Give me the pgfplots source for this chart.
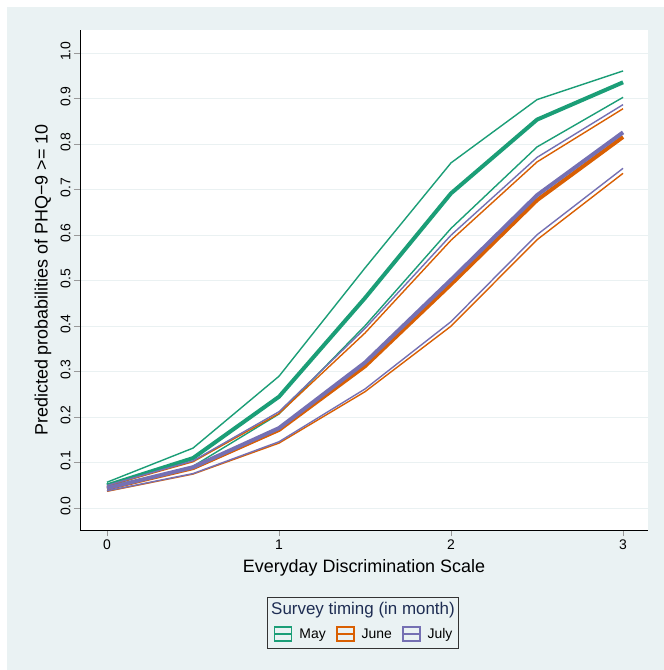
\documentclass[border=0pt]{standalone}
\usepackage{fontspec}
\setmainfont{Liberation Sans}
\usepackage{pgfplots}
\pgfplotsset{compat=1.18}
\definecolor{bgcol}{RGB}{234,242,243}
\definecolor{gridcol}{RGB}{234,241,242}
\definecolor{cMay}{RGB}{27,158,119}
\definecolor{cJune}{RGB}{217,95,2}
\definecolor{cJuly}{RGB}{117,112,179}
\definecolor{titlecol}{RGB}{30,45,83}
\begin{document}
\begin{tikzpicture}
\fill[white] (-80bp,-140bp) rectangle (584bp,530bp);
\fill[bgcol] (-73bp,-140bp) rectangle (584bp,523bp);
\path[use as bounding box] (-80bp,-140bp) rectangle (584bp,530bp);
\begin{axis}[
  at={(0,0)}, anchor=south west,
  scale only axis, width=568bp, height=500bp,
  xmin=-0.157, xmax=3.145, ymin=-0.048, ymax=1.051,
  axis background/.style={fill=white},
  axis lines*=left, axis line style={black, line width=0.8bp, -},
  xtick={0,1,2,3}, ytick={0,0.1,...,1.0},
  tick align=outside, major tick length=6bp,
  tick style={color=gray!80, line width=0.8bp},
  ymajorgrids, major grid style={color=gridcol, line width=1.2bp},
  /pgf/number format/assume math mode=true,
  yticklabel style={/pgf/number format/fixed, /pgf/number format/precision=1, /pgf/number format/fixed zerofill, rotate=90, anchor=south, xshift=2bp},
  ticklabel style={font=\fontsize{14}{16}\selectfont},
  xlabel={Everyday Discrimination Scale},
  ylabel={Predicted probabilities of PHQ−9 >= 10},
  label style={font=\fontsize{18}{20}\selectfont},
  xlabel style={at={(rel axis cs:0.5,0)}, anchor=center, yshift=-38bp},
  ylabel style={at={(rel axis cs:0,0.5)}, anchor=center, yshift=37bp},
  legend columns=3,
  legend style={at={(0.5,-0.208)}, anchor=center, draw=none, fill=none,
    font=\fontsize{14}{16}\selectfont,
    /tikz/every odd column/.append style={column sep=5bp},
    /tikz/every even column/.append style={column sep=8bp}},
  legend image code/.code={
    \draw[#1, line width=1.8bp, fill=none] (0bp,-7bp) rectangle (17bp,7bp);
    \draw[#1, line width=1.8bp] (0bp,0bp) -- (17bp,0bp);
  },
]
% May
\addplot[cMay, line width=4bp] coordinates {(0,0.050) (0.5,0.110) (1,0.245) (1.5,0.462) (2,0.692) (2.5,0.854) (3,0.936)};
\addlegendentry{May}
\addplot[cMay, line width=1.4bp, forget plot] coordinates {(0,0.057) (0.5,0.132) (1,0.290) (1.5,0.528) (2,0.759) (2.5,0.898) (3,0.961)};
\addplot[cMay, line width=1.4bp, forget plot] coordinates {(0,0.043) (0.5,0.092) (1,0.207) (1.5,0.401) (2,0.615) (2.5,0.794) (3,0.903)};
% June
\addplot[cJune, line width=4bp] coordinates {(0,0.043) (0.5,0.088) (1,0.172) (1.5,0.312) (2,0.492) (2.5,0.677) (3,0.816)};
\addlegendentry{June}
\addplot[cJune, line width=1.4bp, forget plot] coordinates {(0,0.049) (0.5,0.102) (1,0.208) (1.5,0.385) (2,0.589) (2.5,0.761) (3,0.878)};
\addplot[cJune, line width=1.4bp, forget plot] coordinates {(0,0.037) (0.5,0.075) (1,0.143) (1.5,0.256) (2,0.400) (2.5,0.590) (3,0.736)};
% July
\addplot[cJuly, line width=4bp] coordinates {(0,0.044) (0.5,0.090) (1,0.176) (1.5,0.320) (2,0.502) (2.5,0.688) (3,0.826)};
\addlegendentry{July}
\addplot[cJuly, line width=1.4bp, forget plot] coordinates {(0,0.050) (0.5,0.104) (1,0.212) (1.5,0.395) (2,0.600) (2.5,0.771) (3,0.887)};
\addplot[cJuly, line width=1.4bp, forget plot] coordinates {(0,0.038) (0.5,0.076) (1,0.146) (1.5,0.262) (2,0.410) (2.5,0.601) (3,0.747)};
\end{axis}
\draw[black!80, line width=0.8bp] (187bp,-118bp) rectangle (378bp,-67bp);
\node[font=\fontsize{17}{19}\selectfont, text=titlecol, anchor=center] at (283bp,-80bp) {Survey timing (in month)};
\end{tikzpicture}
\end{document}
